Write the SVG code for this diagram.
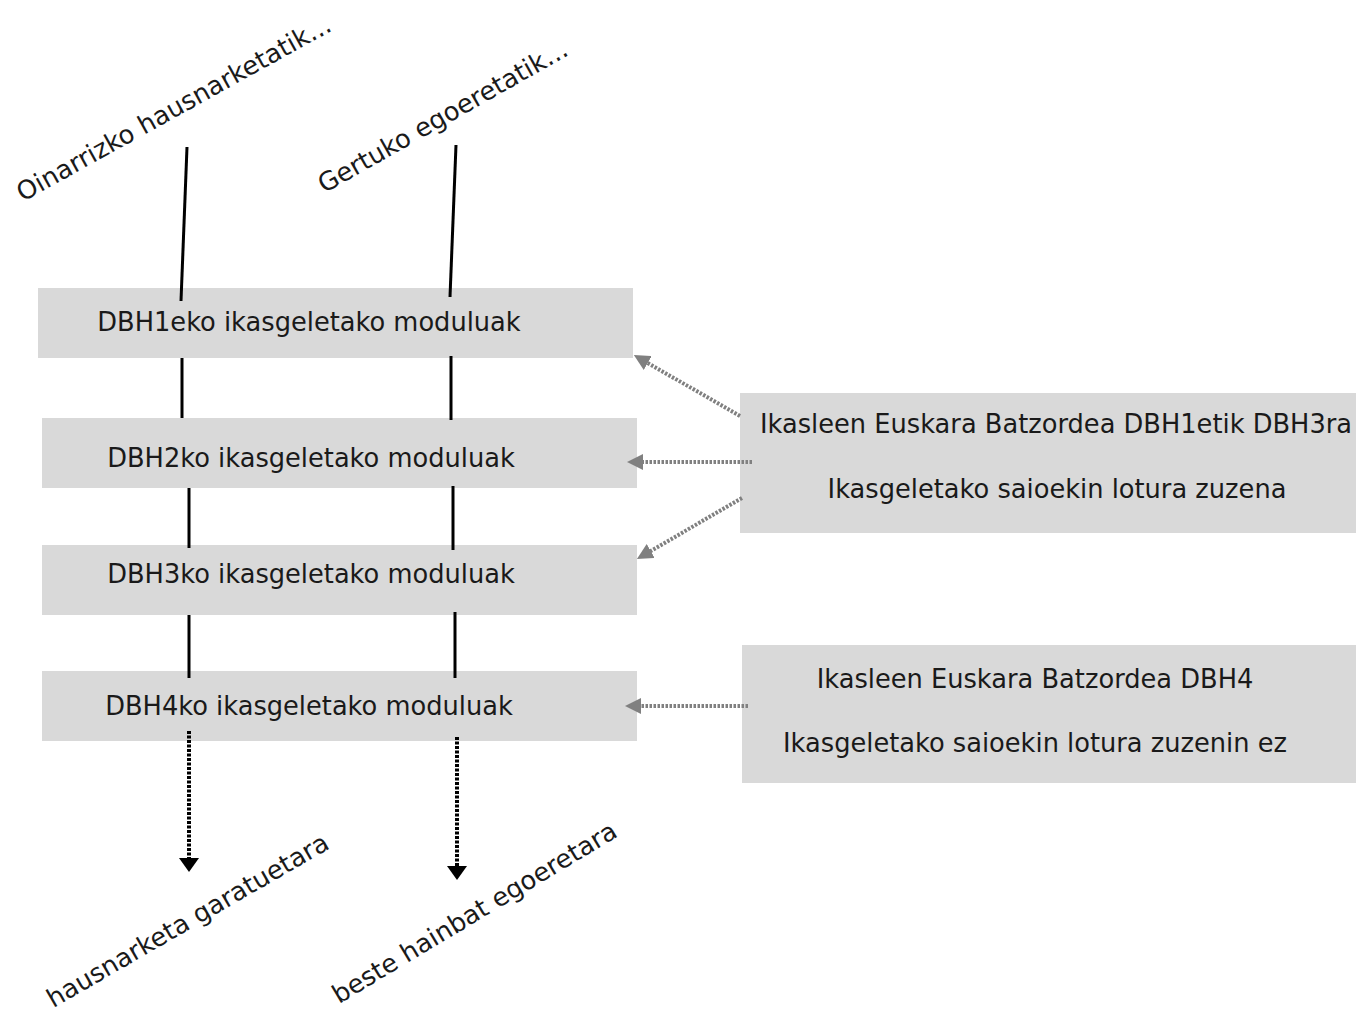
<svg xmlns="http://www.w3.org/2000/svg" width="1356" height="1014" viewBox="0 0 1356 1014">
<style>
.box{fill:#d9d9d9}
.t{font-family:"DejaVu Sans","Liberation Sans",sans-serif;font-size:25.7px;fill:#1a1a1a;text-anchor:middle}
.solid{stroke:#000;stroke-width:3;fill:none}
.gdot{stroke:#808080;stroke-width:4;stroke-dasharray:2.5,1.5;fill:none}
.bdot{stroke:#000;stroke-width:4;stroke-dasharray:3,1.5;fill:none}
</style>
<defs>
<marker id="ga" viewBox="0 0 16 16" refX="2" refY="8" markerWidth="16" markerHeight="16" orient="auto" markerUnits="userSpaceOnUse">
<path d="M0,0 L16,8 L0,16 z" fill="#808080"/>
</marker>
<marker id="ba" viewBox="0 0 14 20" refX="2" refY="10" markerWidth="14" markerHeight="20" orient="auto" markerUnits="userSpaceOnUse">
<path d="M0,0 L14,10 L0,20 z" fill="#000"/>
</marker>
</defs>
<rect width="1356" height="1014" fill="#fff"/>
<g id="labels">
<text class="t" transform="translate(178,116) rotate(-29)">Oinarrizko hausnarketatik...</text>
<text class="t" transform="translate(447,124) rotate(-29.5)">Gertuko egoeretatik...</text>
<text class="t" transform="translate(192,928) rotate(-30)">hausnarketa garatuetara</text>
<text class="t" transform="translate(479,920) rotate(-31)">beste hainbat egoeretara</text>
</g>
<g id="dbh1">
<rect class="box" x="38" y="288" width="595" height="70"/>
<text class="t" x="309" y="331">DBH1eko ikasgeletako moduluak</text>
</g>
<g id="dbh2">
<rect class="box" x="42" y="418" width="595" height="70"/>
<text class="t" x="311" y="467">DBH2ko ikasgeletako moduluak</text>
</g>
<g id="dbh3">
<rect class="box" x="42" y="545" width="595" height="70"/>
<text class="t" x="311" y="583">DBH3ko ikasgeletako moduluak</text>
</g>
<g id="dbh4">
<rect class="box" x="42" y="671" width="595" height="70"/>
<text class="t" x="309" y="715">DBH4ko ikasgeletako moduluak</text>
</g>
<g id="batzordea13">
<rect class="box" x="740" y="393" width="616" height="140"/>
<text class="t" x="1056" y="433">Ikasleen Euskara Batzordea DBH1etik DBH3ra</text>
<text class="t" x="1057" y="498">Ikasgeletako saioekin lotura zuzena</text>
</g>
<g id="batzordea4">
<rect class="box" x="742" y="645" width="614" height="138"/>
<text class="t" x="1035" y="688">Ikasleen Euskara Batzordea DBH4</text>
<text class="t" x="1035" y="752">Ikasgeletako saioekin lotura zuzenin ez</text>
</g>
<g id="connectors">
<line class="solid" x1="187" y1="147" x2="181" y2="301"/>
<line class="solid" x1="456" y1="145" x2="450" y2="297"/>
<line class="solid" x1="182" y1="358" x2="182" y2="418"/>
<line class="solid" x1="451" y1="356" x2="451" y2="420"/>
<line class="solid" x1="189" y1="488" x2="189" y2="548"/>
<line class="solid" x1="453" y1="486" x2="453" y2="550"/>
<line class="solid" x1="189" y1="615" x2="189" y2="678"/>
<line class="solid" x1="455" y1="612" x2="455" y2="678"/>
<line class="bdot" x1="189" y1="731" x2="189" y2="860" marker-end="url(#ba)"/>
<line class="bdot" x1="457" y1="737" x2="457" y2="868" marker-end="url(#ba)"/>
<line class="gdot" x1="740" y1="416" x2="646" y2="362" marker-end="url(#ga)"/>
<line class="gdot" x1="752" y1="462" x2="641" y2="462" marker-end="url(#ga)"/>
<line class="gdot" x1="742" y1="498" x2="649" y2="552" marker-end="url(#ga)"/>
<line class="gdot" x1="748" y1="706" x2="639" y2="706" marker-end="url(#ga)"/>
</g>
</svg>
